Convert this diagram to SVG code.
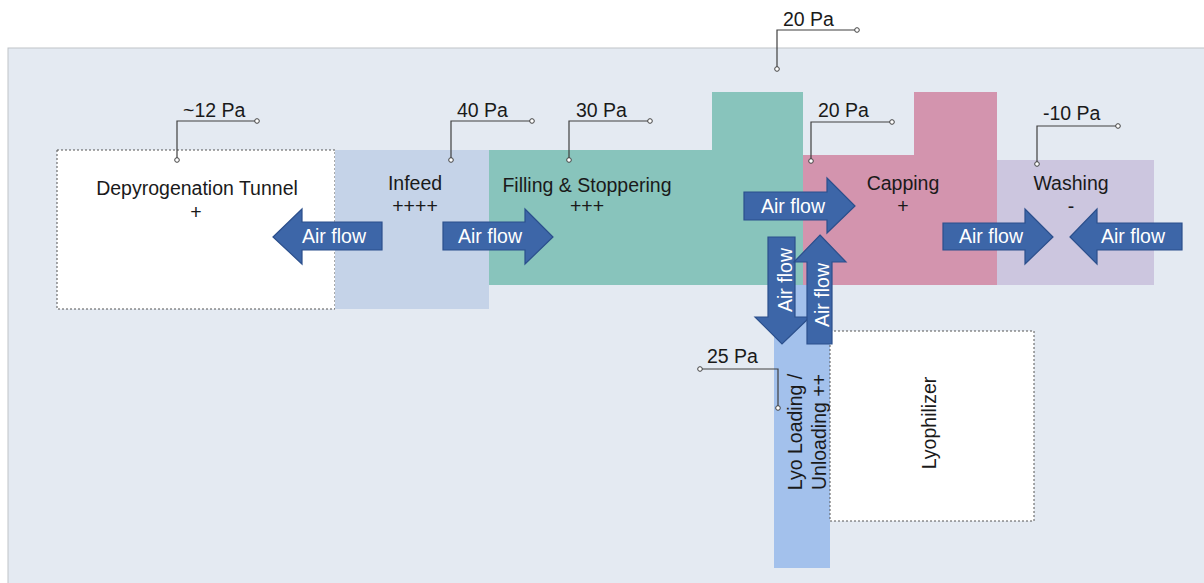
<svg xmlns="http://www.w3.org/2000/svg" width="1204" height="583" viewBox="0 0 1204 583">
<defs>
<style>
text{font-family:"Liberation Sans",Arial,sans-serif;font-size:19.5px;fill:#1a1a1a}
.c{text-anchor:middle}
.w{fill:#ffffff;text-anchor:middle}
.arr{fill:#3d66a8;stroke:#2b4f8c;stroke-width:1.2}
.ld{fill:none;stroke:#404040;stroke-width:1.2}
.dot{fill:#ffffff;stroke:#404040;stroke-width:1}
.dash{fill:#ffffff;stroke:#555;stroke-width:1;stroke-dasharray:2 2}
</style>
</defs>
<rect x="0" y="0" width="1204" height="583" fill="#ffffff"/>
<rect id="panel" x="8" y="48" width="1200" height="540" fill="#e4eaf2" stroke="#bfc3c8" stroke-width="1"/>

<g id="tunnel"><rect class="dash" x="57" y="150" width="278" height="159"/>
<text class="c" x="197" y="195">Depyrogenation Tunnel</text><text class="c" x="196" y="219">+</text></g>
<g id="infeed"><rect x="335" y="150" width="154" height="159" fill="#c5d3e8"/>
<text class="c" x="415" y="190">Infeed</text><text class="c" x="415" y="213">++++</text></g>
<g id="filling"><path d="M489 150H712V92H803V285H489Z" fill="#88c4bc"/>
<text class="c" x="587" y="192">Filling &amp; Stoppering</text><text class="c" x="587" y="213">+++</text></g>
<g id="capping"><path d="M803 155H914V92H997V285H803Z" fill="#d394ae"/>
<text class="c" x="903" y="190">Capping</text><text class="c" x="903" y="213">+</text></g>
<g id="washing"><rect x="997" y="160" width="157" height="125" fill="#ccc6df"/>
<text class="c" x="1071" y="190">Washing</text><text class="c" x="1071" y="213">-</text></g>
<g id="lyoloading"><rect x="774" y="285" width="56" height="283" fill="#a3c1ec"/>
<text class="c" transform="translate(802,432) rotate(-90)">Lyo Loading /</text>
<text class="c" transform="translate(826,432) rotate(-90)">Unloading ++</text></g>
<g id="lyophilizer"><rect class="dash" x="830" y="331" width="204" height="190"/>
<text class="c" transform="translate(936,423) rotate(-90)">Lyophilizer</text></g>

<g id="connectors">
<g id="a1"><path class="arr" d="M273 237L302 209V222H382V250H302V264Z"/><text class="w" x="334" y="243">Air flow</text></g>
<g id="a2"><path class="arr" d="M443 222H525V209L553 237L525 264V250H443Z"/><text class="w" x="490" y="243">Air flow</text></g>
<g id="a3"><path class="arr" d="M744 192H827V178L855 206L827 233V220H744Z"/><text class="w" x="793" y="213">Air flow</text></g>
<g id="a4"><path class="arr" d="M943 223H1025V209L1053 237L1025 264V250H943Z"/><text class="w" x="991" y="243">Air flow</text></g>
<g id="a5"><path class="arr" d="M1070 237L1097 209V223H1182V250H1097V264Z"/><text class="w" x="1133" y="243">Air flow</text></g>
<g id="a6"><path class="arr" d="M768 237H795V317H810L782 344L755 317H768Z"/><text class="w" transform="translate(792,280) rotate(-90)">Air flow</text></g>
<g id="a7"><path class="arr" d="M820 235L846 262H832V344H807V262H794Z"/><text class="w" transform="translate(829,295) rotate(-90)">Air flow</text></g>
</g>

<g id="labels">
<g id="p12"><text x="183" y="117">~12 Pa</text><path class="ld" d="M177 160V121H257"/><circle class="dot" cx="177" cy="160" r="2.3"/><circle class="dot" cx="257" cy="121" r="2.3"/></g>
<g id="p40"><text x="457" y="117">40 Pa</text><path class="ld" d="M451 160V121H532"/><circle class="dot" cx="451" cy="160" r="2.3"/><circle class="dot" cx="532" cy="121" r="2.3"/></g>
<g id="p30"><text x="576" y="117">30 Pa</text><path class="ld" d="M569 160V121H650"/><circle class="dot" cx="569" cy="160" r="2.3"/><circle class="dot" cx="650" cy="121" r="2.3"/></g>
<g id="p20a"><text x="783" y="26">20 Pa</text><path class="ld" d="M777 69V30H857"/><circle class="dot" cx="777" cy="69" r="2.3"/><circle class="dot" cx="857" cy="30" r="2.3"/></g>
<g id="p20b"><text x="818" y="117">20 Pa</text><path class="ld" d="M811 161V122H892"/><circle class="dot" cx="811" cy="161" r="2.3"/><circle class="dot" cx="892" cy="122" r="2.3"/></g>
<g id="p10"><text x="1043" y="120">-10 Pa</text><path class="ld" d="M1037 164V126H1118"/><circle class="dot" cx="1037" cy="164" r="2.3"/><circle class="dot" cx="1118" cy="126" r="2.3"/></g>
<g id="p25"><text x="707" y="363">25 Pa</text><path class="ld" d="M700 369H778V408"/><circle class="dot" cx="700" cy="369" r="2.3"/><circle class="dot" cx="778" cy="408" r="2.3"/></g>
</g>
</svg>
